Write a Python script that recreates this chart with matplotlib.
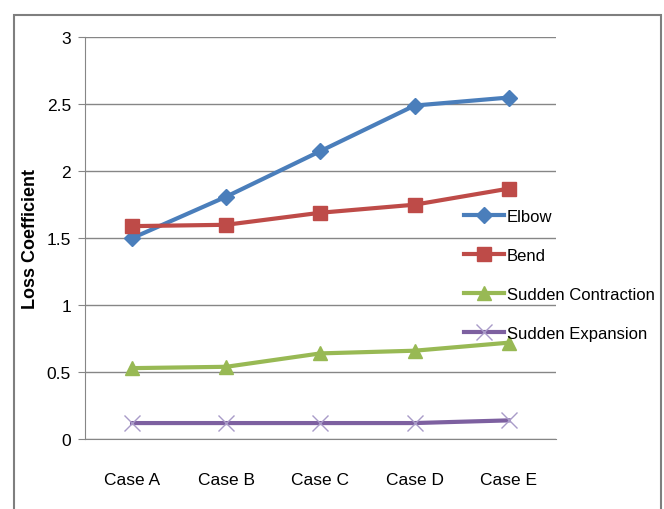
import matplotlib
matplotlib.use("Agg")
import matplotlib.pyplot as plt
from matplotlib.patches import Rectangle

plt.rcParams['font.family'] = ['Liberation Sans Narrow', 'Liberation Sans', 'DejaVu Sans']

cases = ["Case A", "Case B", "Case C", "Case D", "Case E"]
elbow = [1.50, 1.81, 2.15, 2.49, 2.55]
bend = [1.59, 1.60, 1.69, 1.75, 1.87]
contraction = [0.53, 0.54, 0.64, 0.66, 0.72]
expansion = [0.12, 0.12, 0.12, 0.12, 0.14]

fig = plt.figure(figsize=(6.64, 5.10), dpi=100)
ax = fig.add_axes([0.128, 0.137, 0.709, 0.788])

x = range(len(cases))
ax.plot(x, elbow, color="#4A7EBB", lw=3, marker="D", ms=8, label="Elbow")
ax.plot(x, bend, color="#BE4B48", lw=3, marker="s", ms=10, label="Bend")
ax.plot(x, contraction, color="#98B954", lw=3, marker="^", ms=10, label="Sudden Contraction")
ax.plot(x, expansion, color="#7D60A0", lw=3, marker="x", ms=11, mew=1,
        mec="#A99BC8", label="Sudden Expansion")

ax.set_xlim(-0.5, 4.5)
ax.set_ylim(0, 3)
ax.set_yticks([0, 0.5, 1, 1.5, 2, 2.5, 3])
ax.set_yticklabels(["0", "0.5", "1", "1.5", "2", "2.5", "3"])
ax.set_xticks(list(x))
ax.set_xticklabels(cases)
ax.tick_params(axis="y", labelsize=12.5, length=5, color="#868686", pad=5)
ax.tick_params(axis="x", labelsize=12.5, length=0, pad=24)
ax.yaxis.grid(True, color="#868686", lw=1)
ax.set_axisbelow(True)
for s in ["top", "right"]:
    ax.spines[s].set_visible(False)
ax.spines["left"].set_color("#868686")
ax.spines["bottom"].set_color("#868686")

ax.set_ylabel("Loss Coefficient", fontsize=13, fontweight="bold")
ax.yaxis.set_label_coords(-0.098, 0.50)

ax.legend(loc="upper left", bbox_to_anchor=(0.79, 0.59), frameon=False,
          fontsize=12, handlelength=2.4, handletextpad=0.2, labelspacing=1.45,
          borderaxespad=0)

fig.patches.append(Rectangle((14 / 664, -0.05), 647 / 664, 1 - 16 / 510 + 0.05,
                             transform=fig.transFigure, fill=False,
                             edgecolor="#7f7f7f", lw=1.5))

fig.savefig("out.png", dpi=100)
